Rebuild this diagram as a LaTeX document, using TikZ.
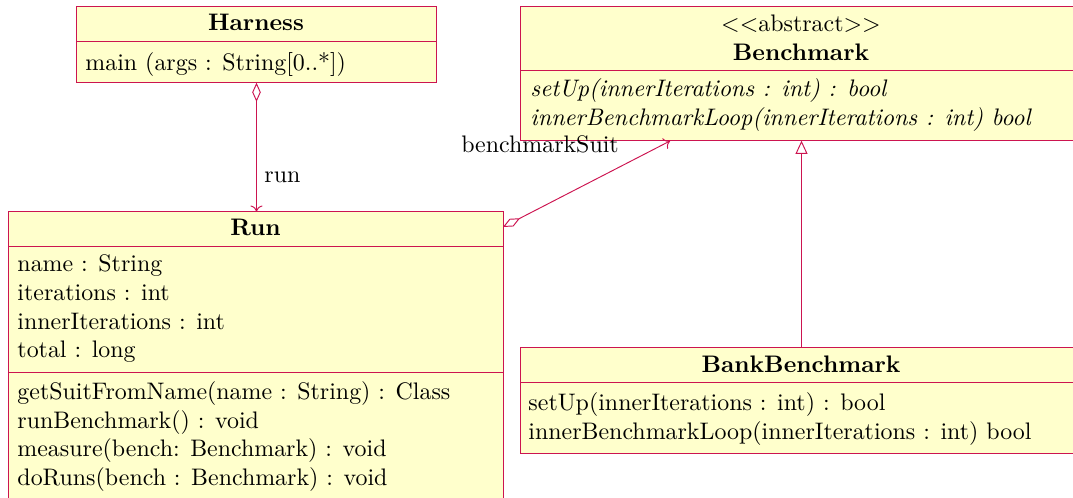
\documentclass[tikz,border=0pt]{standalone}
\usetikzlibrary{arrows.meta,fit}
\definecolor{umlline}{RGB}{204,20,80}
\definecolor{umlfill}{RGB}{255,255,204}
\tikzset{
  x=0.4184pt, y=-0.4184pt,
  classbox/.style={draw=umlline, fill=umlfill, line width=0.4pt, inner sep=0pt, outer sep=0pt},
  divider/.style={draw=umlline, line width=0.4pt},
  title/.style={anchor=base, inner sep=0pt, font=\bfseries},
  member/.style={anchor=base west, inner sep=0pt},
  conn/.style={draw=umlline, line width=0.4pt},
  lbl/.style={inner sep=0pt}
}
\begin{document}
\begin{tikzpicture}
\clip (0,0) rectangle (1073,498);
\useasboundingbox (0,0) rectangle (1073,498);

% Harness
\node[classbox, fit={(76,6.5) (436,82.7)}] (harness) {};
\draw[divider] (harness.west |- 0,41.7) -- (harness.east |- 0,41.7);
\node[title] (harnessT) at (256,31) {Harness};
\node[member] (harnessM) at (85,71) {main (args : String[0..*])};

% Benchmark
\node[classbox, fit={(520,6.8) (1082,140.7)}] (bench) {};
\draw[divider] (bench.west |- 0,70.7) -- (bench.east |- 0,70.7);
\node[anchor=base, inner sep=0pt] (benchS) at (801,32) {$<<$abstract$>>$};
\node[title] (benchT) at (801,61) {Benchmark};
\node[member, font=\itshape] (benchM1) at (530,96.5) {setUp(innerIterations : int) : bool};
\node[member, font=\itshape] (benchM2) at (530,125.5) {innerBenchmarkLoop(innerIterations : int) bool};

% Run
\node[classbox, fit={(8,211.5) (503,510)}] (run) {};
\draw[divider] (run.west |- 0,246) -- (run.east |- 0,246);
\draw[divider] (run.west |- 0,372.3) -- (run.east |- 0,372.3);
\node[title] (runT) at (255.5,236) {Run};
\node[member] (runA1) at (17,272) {name : String};
\node[member] (runA2) at (17,300.7) {iterations : int};
\node[member] (runA3) at (17,329.4) {innerIterations : int};
\node[member] (runA4) at (17,358) {total : long};
\node[member] (runM1) at (17,399.5) {getSuitFromName(name : String) : Class};
\node[member] (runM2) at (17,428.2) {runBenchmark() : void};
\node[member] (runM3) at (17,456.9) {measure(bench: Benchmark) : void};
\node[member] (runM4) at (17,485.6) {doRuns(bench : Benchmark) : void};

% BankBenchmark
\node[classbox, fit={(520,347.3) (1082,453)}] (bank) {};
\draw[divider] (bank.west |- 0,382.7) -- (bank.east |- 0,382.7);
\node[title] (bankT) at (801,373) {BankBenchmark};
\node[member] (bankM1) at (528,410) {setUp(innerIterations : int) : bool};
\node[member] (bankM2) at (528,439) {innerBenchmarkLoop(innerIterations : int) bool};

% connectors
\draw[conn, {Diamond[open,length=8pt,width=3.6pt]}-{To[length=2.5pt,width=5pt]}]
  (harness.south -| 256.5,0) -- (run.north -| 256.5,0);
\node[anchor=base west, inner sep=0pt] (runL) at (264,183) {run};
\coordinate (aggStart) at (503,227);
\coordinate (aggEnd) at (670,141);
\draw[conn, {Diamond[open,length=8pt,width=3.6pt]}-{To[length=2.5pt,width=5pt]}]
  (aggStart) -- (aggEnd);
\node[anchor=base, inner sep=0pt] (suitL) at (540,153) {benchmarkSuit};
\draw[conn, -{Triangle[open,length=5.5pt,width=5pt]}]
  (bank.north -| 801.5,0) -- (bench.south -| 801.5,0);
\end{tikzpicture}
\end{document}
